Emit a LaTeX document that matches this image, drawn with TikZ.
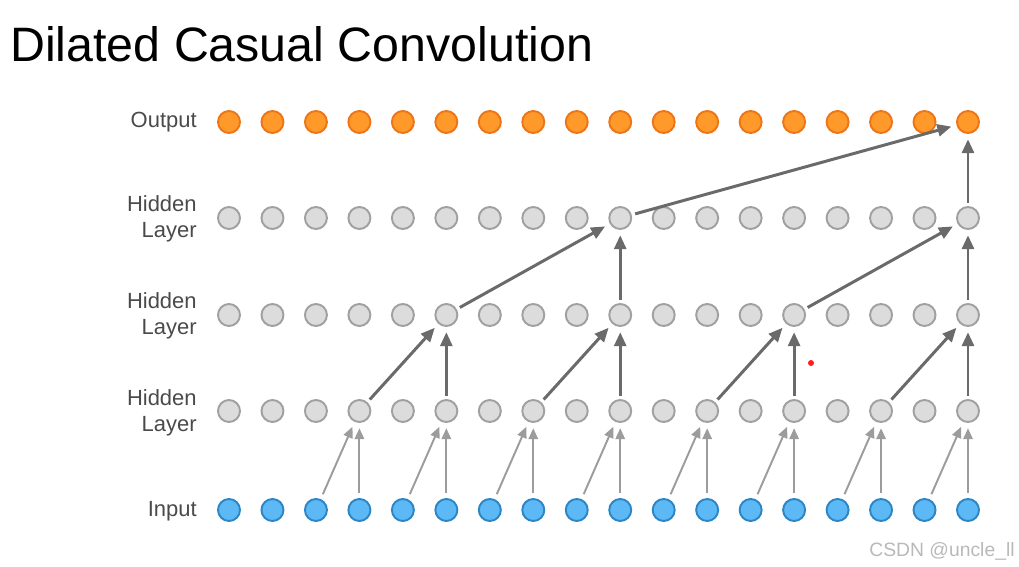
\documentclass[tikz,border=0pt]{standalone}
\usepackage{fontspec}
\setmainfont{Liberation Sans}
\usetikzlibrary{arrows.meta}

\begin{document}
\begin{tikzpicture}[x=0.02cm, y=-0.02cm,
    unit/.style={circle, minimum size=0.44cm, inner sep=0pt, line width=1.1pt},
    outunit/.style={unit, draw=outedge, fill=outfill},
    hiddenunit/.style={unit, draw=hiddenedge, fill=hiddenfill},
    inunit/.style={unit, draw=inedge, fill=infill},
    rowlabel/.style={anchor=east, align=right, inner sep=0pt, text=labelcolor, font=\fontsize{12.5}{14.5}\selectfont},
    link/.style={draw=linkcolor, line width=1.7pt, -{Triangle[length=2.8mm, width=2.4mm]}, shorten >=3pt, shorten <=2pt},
    inlink/.style={draw=inlinkcolor, line width=1.1pt, -{Triangle[length=2.2mm, width=1.9mm]}, shorten >=3pt, shorten <=3pt}]
    % Colors
    \definecolor{outfill}{HTML}{FF9A2A}
    \definecolor{outedge}{HTML}{EE7418}
    \definecolor{hiddenfill}{HTML}{DCDCDC}
    \definecolor{hiddenedge}{HTML}{A0A0A0}
    \definecolor{infill}{HTML}{5CB9F6}
    \definecolor{inedge}{HTML}{2C86C6}
    \definecolor{linkcolor}{HTML}{6A6A6A}
    \definecolor{inlinkcolor}{HTML}{9C9C9C}
    \definecolor{labelcolor}{HTML}{4A4A4A}

    % Frame
    \useasboundingbox (0,0) rectangle (1019,567);

    % Title
    \node[anchor=base west, inner sep=0pt, font=\fontsize{27.5}{32}\selectfont] (title) at (10,62) {Dilated Casual Convolution};

    % Row labels
    \node[rowlabel] (lbl-out) at (197,122) {Output};
    \node[rowlabel] (lbl-hc) at (197,219) {Hidden\\Layer};
    \node[rowlabel] (lbl-hb) at (197,316) {Hidden\\Layer};
    \node[rowlabel] (lbl-ha) at (197,413) {Hidden\\Layer};
    \node[rowlabel] (lbl-in) at (197,511) {Input};

    % Units
    \foreach \i in {0,...,17} {
        \pgfmathsetmacro\xx{229+43.47*\i}
        \node[outunit] (out-\i) at (\xx,122) {};
        \node[hiddenunit] (hc-\i) at (\xx,218) {};
        \node[hiddenunit] (hb-\i) at (\xx,315) {};
        \node[hiddenunit] (ha-\i) at (\xx,411) {};
        \node[inunit] (in-\i) at (\xx,510) {};
    }

    % Dilation 1
    \foreach \i in {3,5,...,17} {
        \pgfmathtruncatemacro\j{\i-1}
        \draw[inlink] (in-\j) -- (ha-\i);
        \draw[inlink] (in-\i) -- (ha-\i);
    }
    % Dilation 2
    \foreach \i in {5,9,13,17} {
        \pgfmathtruncatemacro\j{\i-2}
        \draw[link] (ha-\j) -- (hb-\i);
        \draw[link] (ha-\i) -- (hb-\i);
    }
    % Dilation 4
    \foreach \i in {9,17} {
        \pgfmathtruncatemacro\j{\i-4}
        \draw[link] (hb-\j) -- (hc-\i);
        \draw[link] (hb-\i) -- (hc-\i);
    }
    % Dilation 8
    \draw[link] (hc-9) -- (out-17);
    \draw[link] (hc-17) -- (out-17);

    % Marks
    \node[circle, fill=red!85!pink, minimum size=0.12cm, inner sep=0pt] (dot) at (811,363) {};
    \node[anchor=base east, inner sep=0pt, text=gray!55, font=\fontsize{11}{13}\selectfont] (mark) at (1015,557) {CSDN @uncle\_ll};
\end{tikzpicture}
\end{document}
